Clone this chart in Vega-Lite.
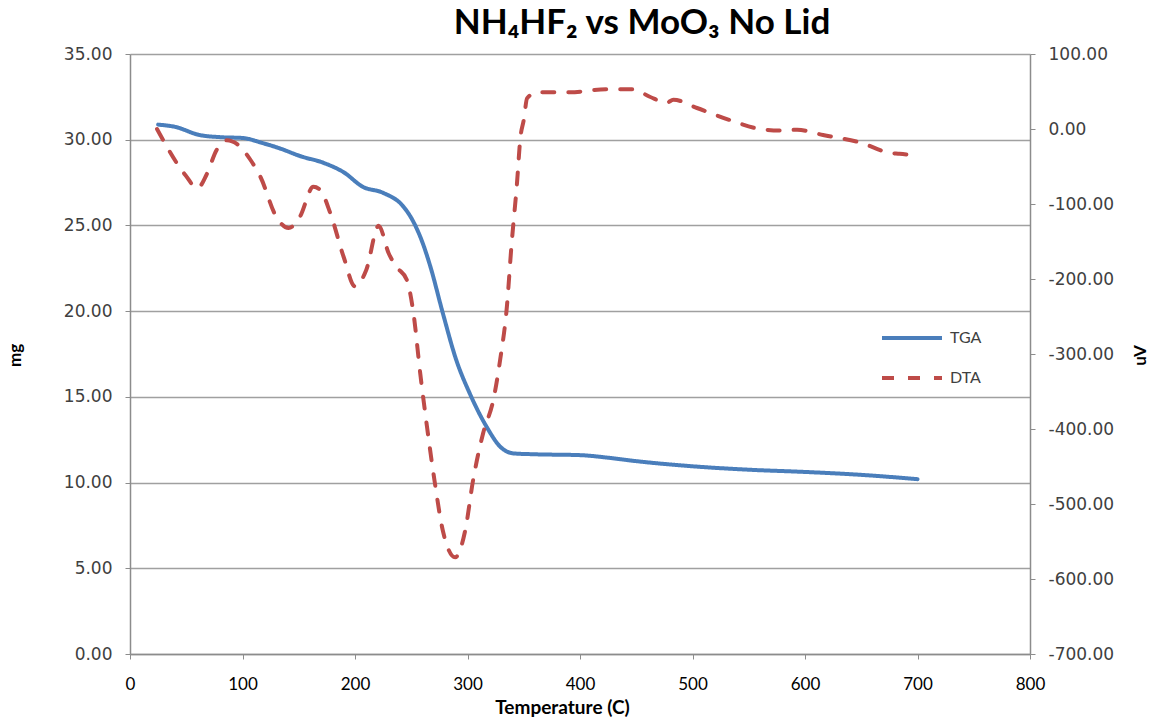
{
  "$schema": "https://vega.github.io/schema/vega-lite/v6.json",
  "autosize": {"type": "none"},
  "width": 900,
  "height": 600,
  "padding": {"left": 130, "top": 54, "right": 121, "bottom": 65},
  "background": "white",
  "title": {
    "text": "NH₄HF₂ vs MoO₃ No Lid",
    "font": "Lato, DejaVu Sans",
    "fontSize": 35,
    "fontWeight": "bold",
    "color": "#000000",
    "anchor": "middle",
    "frame": "group",
    "baseline": "alphabetic",
    "offset": 16,
    "dx": 62,
    "dy": 40
  },
  "config": {
    "view": {"stroke": null},
    "axis": {"domainColor": "#8c8c8c", "tickColor": "#8c8c8c", "gridColor": "#a0a0a0", "gridWidth": 1.5, "domainWidth": 1.5}
  },
  "data": {
    "values": [
      {"series": "TGA", "T": 25, "v": 30.88},
      {"series": "TGA", "T": 40, "v": 30.75},
      {"series": "TGA", "T": 62, "v": 30.27},
      {"series": "TGA", "T": 80, "v": 30.15},
      {"series": "TGA", "T": 100, "v": 30.1},
      {"series": "TGA", "T": 118, "v": 29.8},
      {"series": "TGA", "T": 135, "v": 29.45},
      {"series": "TGA", "T": 151, "v": 29.05},
      {"series": "TGA", "T": 172, "v": 28.65},
      {"series": "TGA", "T": 190, "v": 28.1},
      {"series": "TGA", "T": 207, "v": 27.25},
      {"series": "TGA", "T": 225, "v": 26.9},
      {"series": "TGA", "T": 243, "v": 26.1},
      {"series": "TGA", "T": 252, "v": 25.2},
      {"series": "TGA", "T": 260, "v": 24.0},
      {"series": "TGA", "T": 267, "v": 22.6},
      {"series": "TGA", "T": 278, "v": 19.9},
      {"series": "TGA", "T": 290, "v": 17.15},
      {"series": "TGA", "T": 302, "v": 15.2},
      {"series": "TGA", "T": 317, "v": 13.25},
      {"series": "TGA", "T": 329, "v": 12.1},
      {"series": "TGA", "T": 341, "v": 11.7},
      {"series": "TGA", "T": 360, "v": 11.65},
      {"series": "TGA", "T": 400, "v": 11.6},
      {"series": "TGA", "T": 425, "v": 11.45},
      {"series": "TGA", "T": 450, "v": 11.25},
      {"series": "TGA", "T": 500, "v": 10.95},
      {"series": "TGA", "T": 550, "v": 10.75},
      {"series": "TGA", "T": 600, "v": 10.62},
      {"series": "TGA", "T": 650, "v": 10.45},
      {"series": "TGA", "T": 700, "v": 10.2},
      {"series": "DTA", "T": 24, "v": 0},
      {"series": "DTA", "T": 49, "v": -61},
      {"series": "DTA", "T": 60, "v": -79},
      {"series": "DTA", "T": 68, "v": -61},
      {"series": "DTA", "T": 77, "v": -28},
      {"series": "DTA", "T": 86, "v": -15},
      {"series": "DTA", "T": 96, "v": -21},
      {"series": "DTA", "T": 107, "v": -41},
      {"series": "DTA", "T": 116, "v": -64},
      {"series": "DTA", "T": 130, "v": -117},
      {"series": "DTA", "T": 141, "v": -132},
      {"series": "DTA", "T": 151, "v": -117},
      {"series": "DTA", "T": 163, "v": -77},
      {"series": "DTA", "T": 169, "v": -81},
      {"series": "DTA", "T": 178, "v": -112},
      {"series": "DTA", "T": 190, "v": -171},
      {"series": "DTA", "T": 200, "v": -210},
      {"series": "DTA", "T": 210, "v": -188},
      {"series": "DTA", "T": 221, "v": -129},
      {"series": "DTA", "T": 230, "v": -166},
      {"series": "DTA", "T": 237, "v": -184},
      {"series": "DTA", "T": 246, "v": -201},
      {"series": "DTA", "T": 252, "v": -246},
      {"series": "DTA", "T": 258, "v": -326},
      {"series": "DTA", "T": 264, "v": -397},
      {"series": "DTA", "T": 271, "v": -472},
      {"series": "DTA", "T": 278, "v": -535},
      {"series": "DTA", "T": 289, "v": -571},
      {"series": "DTA", "T": 298, "v": -535},
      {"series": "DTA", "T": 305, "v": -468},
      {"series": "DTA", "T": 314, "v": -405},
      {"series": "DTA", "T": 323, "v": -361},
      {"series": "DTA", "T": 329, "v": -308},
      {"series": "DTA", "T": 335, "v": -237},
      {"series": "DTA", "T": 339, "v": -157},
      {"series": "DTA", "T": 344, "v": -72},
      {"series": "DTA", "T": 347, "v": -12},
      {"series": "DTA", "T": 350, "v": 12},
      {"series": "DTA", "T": 353, "v": 41},
      {"series": "DTA", "T": 362, "v": 49},
      {"series": "DTA", "T": 391, "v": 49},
      {"series": "DTA", "T": 424, "v": 53},
      {"series": "DTA", "T": 447, "v": 53},
      {"series": "DTA", "T": 462, "v": 43},
      {"series": "DTA", "T": 477, "v": 35},
      {"series": "DTA", "T": 483, "v": 39},
      {"series": "DTA", "T": 504, "v": 28},
      {"series": "DTA", "T": 533, "v": 12},
      {"series": "DTA", "T": 560, "v": 0},
      {"series": "DTA", "T": 578, "v": -2},
      {"series": "DTA", "T": 593, "v": -1},
      {"series": "DTA", "T": 616, "v": -8},
      {"series": "DTA", "T": 649, "v": -18},
      {"series": "DTA", "T": 676, "v": -32},
      {"series": "DTA", "T": 684, "v": -33},
      {"series": "DTA", "T": 700, "v": -36}
    ]
  },
  "encoding": {
    "x": {
      "field": "T",
      "type": "quantitative",
      "scale": {"domain": [0, 800], "nice": false},
      "axis": {
        "values": [0, 100, 200, 300, 400, 500, 600, 700, 800],
        "title": "Temperature (C)",
        "titleFont": "Lato",
        "titleFontSize": 19,
        "titleFontWeight": "bold",
        "titleColor": "#000000",
        "titleX": 432,
        "titleY": 53,
        "titleBaseline": "middle",
        "titleAlign": "center",
        "labelFont": "Lato",
        "labelFontSize": 17,
        "labelColor": "#000000",
        "labelPadding": 17,
        "tickSize": 5,
        "grid": false,
        "labelFlush": false
      }
    },
    "color": {
      "field": "series",
      "type": "nominal",
      "scale": {"domain": ["TGA", "DTA"], "range": ["#4A7EBB", "#BE4B48"]},
      "legend": {
        "title": null,
        "orient": "none",
        "legendX": 750,
        "legendY": 252,
        "symbolType": "stroke",
        "symbolSize": 3600,
        "symbolStrokeWidth": 4,
        "rowPadding": -6,
        "labelFont": "Lato",
        "labelFontSize": 16,
        "labelColor": "#404040",
        "labelOffset": 6
      }
    },
    "strokeDash": {
      "field": "series",
      "type": "nominal",
      "scale": {"domain": ["TGA", "DTA"], "range": [[1, 0], [12, 14]]},
      "legend": null
    }
  },
  "layer": [
    {
      "transform": [{"filter": "datum.series === 'TGA'"}],
      "mark": {"type": "line", "interpolate": "monotone", "strokeWidth": 4, "strokeCap": "round"},
      "encoding": {
        "y": {
          "field": "v",
          "type": "quantitative",
          "scale": {"domain": [0, 35], "nice": false, "zero": false},
          "axis": {
            "values": [0, 5, 10, 15, 20, 25, 30, 35],
            "labelExpr": "replace(format(datum.value, '.2f'), '\u2212', '-')",
            "title": "mg",
            "titleFont": "Lato",
            "titleFontSize": 17,
            "titleFontWeight": "bold",
            "titleColor": "#000000",
            "titleAngle": -90,
            "titleX": -115,
            "titleY": 301,
            "titleBaseline": "middle",
            "titleAlign": "center",
            "labelFont": "DejaVu Sans",
            "labelFontSize": 17,
            "labelColor": "#404040",
            "labelPadding": 13,
            "tickSize": 5,
            "grid": true
          }
        }
      }
    },
    {
      "transform": [{"filter": "datum.series === 'DTA'"}],
      "mark": {"type": "line", "interpolate": "monotone", "strokeWidth": 4, "strokeCap": "round"},
      "encoding": {
        "y": {
          "field": "v",
          "type": "quantitative",
          "scale": {"domain": [-700, 100], "nice": false, "zero": false},
          "axis": {
            "orient": "right",
            "values": [-700, -600, -500, -400, -300, -200, -100, 0, 100],
            "labelExpr": "replace(format(datum.value, '.2f'), '\u2212', '-')",
            "title": "uV",
            "titleFont": "Lato",
            "titleFontSize": 17,
            "titleFontWeight": "bold",
            "titleColor": "#000000",
            "titleAngle": -90,
            "titleX": 110,
            "titleY": 301,
            "titleBaseline": "middle",
            "titleAlign": "center",
            "labelFont": "DejaVu Sans",
            "labelFontSize": 17,
            "labelColor": "#404040",
            "labelPadding": 13,
            "tickSize": 5,
            "grid": false
          }
        }
      }
    }
  ],
  "resolve": {"scale": {"y": "independent"}}
}
